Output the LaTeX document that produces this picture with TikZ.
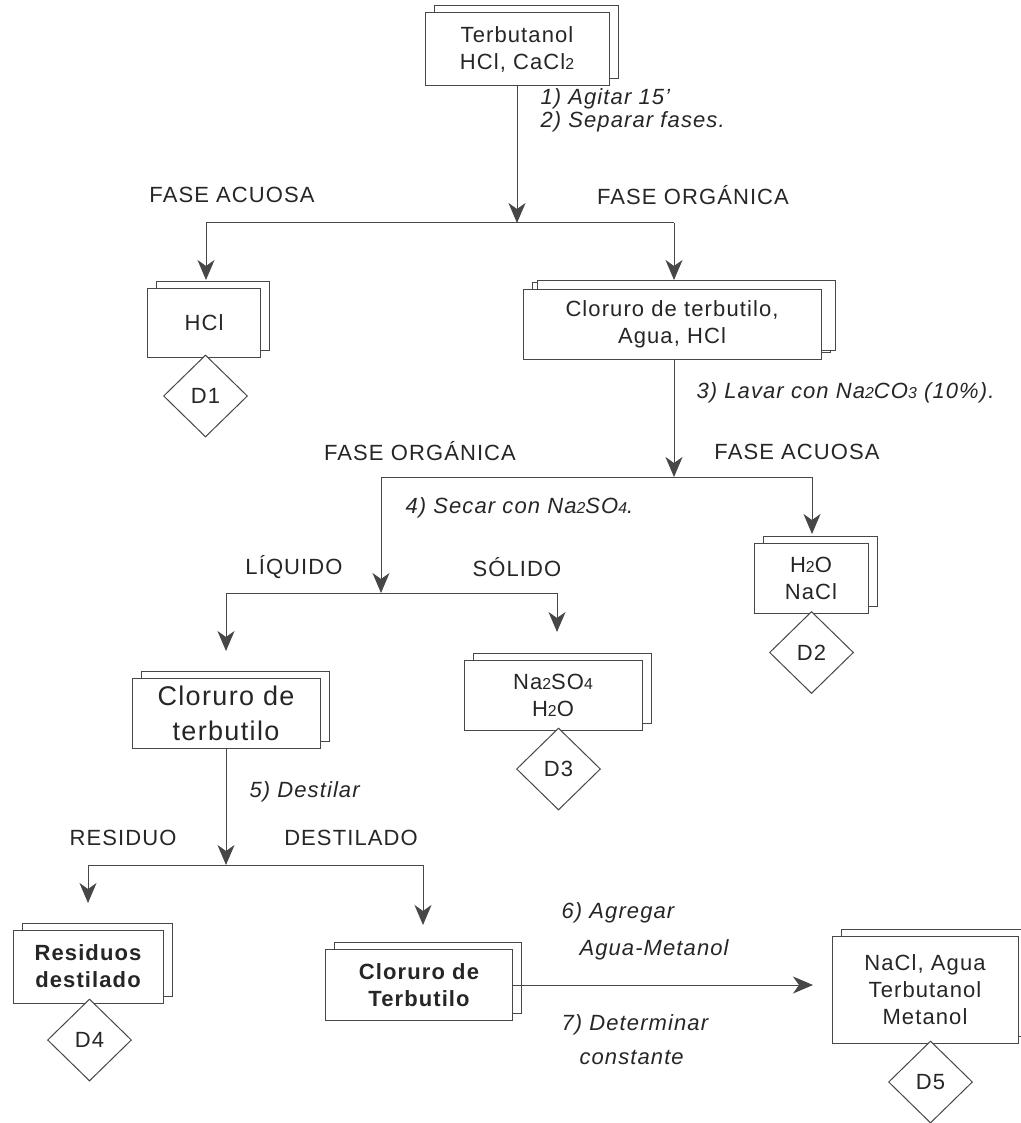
\documentclass[tikz,border=0pt]{standalone}
\usepackage{fontspec}
\setmainfont{Liberation Sans}[LetterSpace=5.0]
\usetikzlibrary{arrows.meta,shapes.geometric,shadows}
\definecolor{linec}{HTML}{474747}
\definecolor{textc}{HTML}{262626}
\newcommand\smd[1]{\scalebox{0.72}{#1}}
\begin{document}
\begin{tikzpicture}[x=1pt,y=-1pt,
  every node/.style={text=textc},
  box/.style={draw=linec, fill=white, line width=1pt, align=center, inner sep=0pt,
    font=\fontsize{22}{27}\selectfont,
    copy shadow={shadow xshift=9pt, shadow yshift=7pt, draw=linec, fill=white, line width=1pt}},
  disp/.style={diamond, draw=linec, fill=white, line width=1pt, minimum width=84pt,
    minimum height=82pt, inner sep=0pt, font=\fontsize{22}{26}\selectfont},
  caplab/.style={font=\fontsize{22}{26}\selectfont},
  itl/.style={anchor=west, font=\fontsize{22}{26}\selectfont\itshape},
  ln/.style={draw=linec, line width=1pt},
  arr/.style={ln, -{Stealth[length=20pt,width=17pt,inset=6pt]}}
]
\useasboundingbox (0,0) rectangle (1020,1123);
\fill[white] (0,0) rectangle (1020,1123);

% boxes
\node[box, minimum width=184pt, minimum height=73pt] (top) at (517,49.5) {Terbutanol\\HCl, CaCl\smd{2}};
\node[box, minimum width=113pt, minimum height=69pt] (hcl) at (204,322.5) {HCl};
\node[box, minimum width=298pt, minimum height=70pt,
  copy shadow={shadow xshift=14pt, shadow yshift=9pt, draw=linec, fill=white, line width=1pt}] (mid) at (672,324) {Cloruro de terbutilo,\\Agua, HCl};
\node[box, minimum width=114pt, minimum height=70pt] (h2o) at (811,578) {H\smd{2}O\\NaCl};
\node[box, minimum width=188pt, minimum height=70pt, font=\fontsize{27}{35}\selectfont] (clo) at (226,713) {Cloruro de\\terbutilo};
\node[box, minimum width=178pt, minimum height=70pt] (na2) at (553,695) {Na\smd{2}SO\smd{4}\\H\smd{2}O};
\node[box, minimum width=150pt, minimum height=73pt, font=\fontsize{22}{27}\selectfont\bfseries] (res) at (88,966.5) {Residuos\\destilado};
\node[box, minimum width=187pt, minimum height=71pt, font=\fontsize{22}{27}\selectfont\bfseries] (bold) at (419,985) {Cloruro de\\Terbutilo};
\node[box, minimum width=186pt, minimum height=107pt] (nacl) at (925,989.5) {NaCl, Agua\\Terbutanol\\Metanol};

% disposal diamonds
\node[disp] (d1) at (205.5,396) {D1};
\node[disp] (d2) at (811.5,652.5) {D2};
\node[disp] (d3) at (558.5,769) {D3};
\node[disp] (d4) at (89.5,1040) {D4};
\node[disp] (d5) at (930.5,1082) {D5};

% junction coordinates
\coordinate (s1) at (517,223);
\coordinate (s1l) at (206,223);
\coordinate (s1r) at (674,223);
\coordinate (e1l) at (206,280);
\coordinate (e1r) at (674,280);
\coordinate (s2) at (674,477);
\coordinate (s2l) at (381,477);
\coordinate (s2r) at (812,477);
\coordinate (e2r) at (812,534);
\coordinate (s3) at (381,593);
\coordinate (s3l) at (226,593);
\coordinate (s3r) at (557,593);
\coordinate (e3l) at (226,651);
\coordinate (e3r) at (557,632);
\coordinate (s4) at (226,865);
\coordinate (s4l) at (88,865);
\coordinate (s4r) at (423,865);
\coordinate (e4l) at (88,903);
\coordinate (e4r) at (423,925);
\coordinate (e5) at (813,985);

% connectors
\draw[arr] (top.south) -- (s1);
\draw[ln] (s1l) -- (s1r);
\draw[arr] (s1l) -- (e1l);
\draw[arr] (s1r) -- (e1r);
\draw[arr] (mid.south -| s2) -- (s2);
\draw[ln] (s2l) -- (s2r);
\draw[arr] (s2r) -- (e2r);
\draw[arr] (s2l) -- (s3);
\draw[ln] (s3l) -- (s3r);
\draw[arr] (s3l) -- (e3l);
\draw[arr] (s3r) -- (e3r);
\draw[arr] (clo.south) -- (s4);
\draw[ln] (s4l) -- (s4r);
\draw[arr] (s4l) -- (e4l);
\draw[arr] (s4r) -- (e4r);
\draw[arr] (bold.east) -- (e5);

% labels
\node[itl] (l1) at (537,99) {1) Agitar 15'};
\node[itl] (l2) at (537,122) {2) Separar fases.};
\node[caplab] (fa1) at (232,195) {FASE ACUOSA};
\node[caplab] (fo1) at (693,195) {FASE ORGÁNICA};
\node[itl] (l3) at (693,393) {3) Lavar con Na\smd{2}CO\smd{3} (10\%).};
\node[caplab] (fo2) at (420,451) {FASE ORGÁNICA};
\node[caplab] (fa2) at (797,452) {FASE ACUOSA};
\node[itl] (l4) at (402,508) {4) Secar con Na\smd{2}SO\smd{4}.};
\node[caplab] (liq) at (294,567) {LÍQUIDO};
\node[caplab] (sol) at (517,567) {SÓLIDO};
\node[itl] (l5) at (246,792) {5) Destilar};
\node[caplab] (rsd) at (123,838) {RESIDUO};
\node[caplab] (dst) at (351,838) {DESTILADO};
\node[itl] (l6a) at (558,913) {6) Agregar};
\node[itl] (l6b) at (576,950) {Agua-Metanol};
\node[itl] (l7a) at (558,1025) {7) Determinar};
\node[itl] (l7b) at (576,1057) {constante};
\end{tikzpicture}
\end{document}
